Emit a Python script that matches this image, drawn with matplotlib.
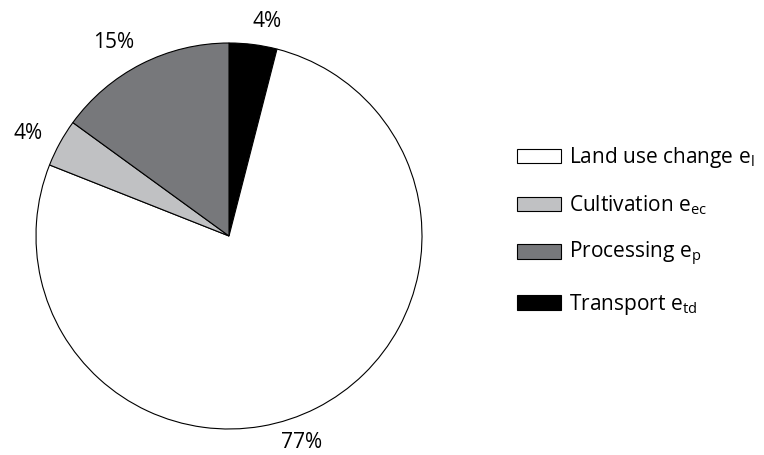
import matplotlib
matplotlib.use("Agg")
import matplotlib.pyplot as plt
from matplotlib.patches import Patch
from matplotlib.transforms import ScaledTranslation

plt.rcParams['font.family'] = ['Open Sans', 'DejaVu Sans']
plt.rcParams['mathtext.fontset'] = 'custom'
plt.rcParams['mathtext.rm'] = 'Open Sans'

# Emission shares, drawn clockwise from 12 o'clock
sources = ["Transport", "Land use change", "Cultivation", "Processing"]
shares = [4, 77, 4, 15]
colors = ["#000000", "#ffffff", "#c0c1c3", "#77787b"]
legend_labels = {
    "Land use change": r"Land use change $\mathregular{e_l}$",
    "Cultivation": r"Cultivation $\mathregular{e_{ec}}$",
    "Processing": r"Processing $\mathregular{e_p}$",
    "Transport": r"Transport $\mathregular{e_{td}}$",
}
legend_order = ["Land use change", "Cultivation", "Processing", "Transport"]

# small nudges (inches, right/up) for the percentage labels
label_nudge = [(0.10, -0.06), (-0.28, -0.09), (-0.06, -0.04), (-0.15, -0.04)]

fig = plt.figure(figsize=(7.64, 4.55), dpi=100)
ax = fig.add_axes([36 / 764, 26 / 455, 386 / 764, 386 / 455])

wedges, texts = ax.pie(
    shares,
    colors=colors,
    startangle=90,
    counterclock=False,
    labels=[f"{s}%" for s in shares],
    labeldistance=1.15,
    wedgeprops=dict(edgecolor="black", linewidth=0.8),
    textprops=dict(fontsize=15),
)
for t, (nx, ny) in zip(texts, label_nudge):
    t.set_horizontalalignment("center")
    t.set_verticalalignment("center")
    t.set_transform(ax.transData + ScaledTranslation(nx, ny, fig.dpi_scale_trans))
ax.set_xlim(-1, 1)
ax.set_ylim(-1, 1)
ax.axis("off")

handles = [
    Patch(facecolor=colors[sources.index(s)], edgecolor="black", linewidth=0.8)
    for s in legend_order
]
fig.legend(
    handles,
    [legend_labels[s] for s in legend_order],
    loc="upper left",
    bbox_to_anchor=(517 / 764, 1 - 145 / 455),
    frameon=False,
    fontsize=15,
    handlelength=2.1,
    handleheight=0.68,
    handletextpad=0.4,
    labelspacing=1.12,
    borderpad=0,
    borderaxespad=0,
)

fig.savefig("out.png", dpi=100)
